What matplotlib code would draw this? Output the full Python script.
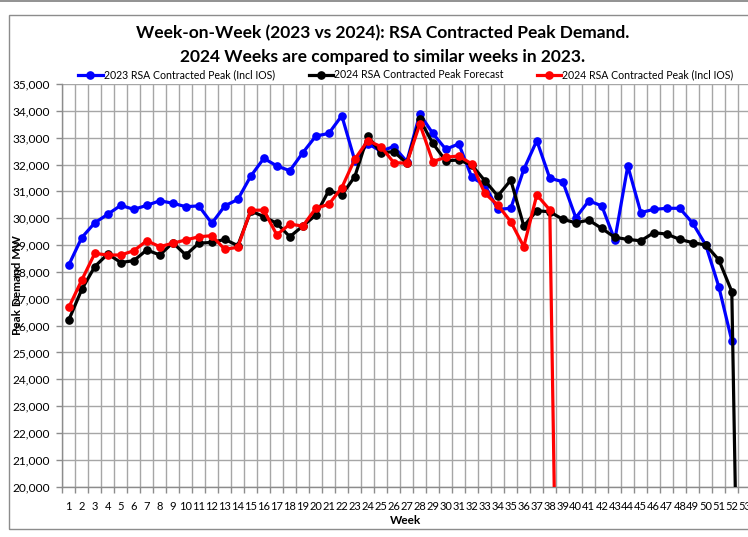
import matplotlib
matplotlib.use("Agg")
import matplotlib.pyplot as plt
from matplotlib.lines import Line2D
from matplotlib.patches import Rectangle
from matplotlib.ticker import FuncFormatter, FixedLocator

plt.rcParams['font.family'] = ['Lato', 'DejaVu Sans']

# week numbers on the category axis
weeks = list(range(1, 54))
week_labels = [str(w) for w in weeks]

# 2023 RSA Contracted Peak (Incl IOS), weeks 1-52
peak_2023 = [28260, 29280, 29830, 30150, 30480, 30330, 30480, 30650, 30560, 30430,
             30460, 29810, 30460, 30700, 31570, 32230, 31950, 31770, 32440, 33060,
             33160, 33820, 32150, 32780, 32500, 32670, 32110, 33880, 33160, 32570,
             32770, 31520, 31240, 30330, 30370, 31820, 32890, 31490, 31360, 30020,
             30650, 30460, 29190, 31950, 30210, 30330, 30370, 30370, 29810, 29000,
             27450, 25440]

# 2024 RSA Contracted Peak Forecast, weeks 1-53
forecast_2024 = [26210, 27350, 28200, 28670, 28350, 28420, 28820, 28630, 29090, 28630,
                 29070, 29100, 29210, 28980, 30270, 30060, 29810, 29310, 29710, 30120,
                 31030, 30870, 31550, 33060, 32440, 32480, 32050, 33680, 32790, 32140,
                 32170, 31980, 31400, 30830, 31420, 29710, 30280, 30240, 29960, 29830,
                 29930, 29620, 29290, 29210, 29160, 29460, 29410, 29210, 29090, 29000,
                 28450, 27270, 0]

# 2024 RSA Contracted Peak (Incl IOS), weeks 1-39
actual_2024 = [26680, 27700, 28690, 28630, 28630, 28790, 29160, 28940, 29070, 29190,
               29310, 29350, 28840, 28920, 30300, 30300, 29380, 29780, 29710, 30370,
               30520, 31140, 32200, 32890, 32670, 32070, 32050, 33510, 32110, 32270,
               32320, 32020, 30930, 30490, 29870, 28940, 30870, 30310, 0]

series_names = ["2023 RSA Contracted Peak (Incl IOS)",
                "2024 RSA Contracted Peak Forecast",
                "2024 RSA Contracted Peak (Incl IOS)"]
colors = ["#0000FF", "#000000", "#FF0000"]

W, H = 748, 537
fig = plt.figure(figsize=(W / 100, H / 100), dpi=100)

# outer chart frame
fig.patches.append(Rectangle((9.3 / W, 1 - 529 / H), 1.2, (529 - 15) / H,
                             transform=fig.transFigure, fill=False,
                             edgecolor="#8c8c8c", lw=1.0))
fig.add_artist(Line2D([0, 1], [1 - 0.8 / H, 1 - 0.8 / H], transform=fig.transFigure,
                      color="#7f7f7f", lw=1.2))

ax = fig.add_axes([62.3 / W, 1 - 486.7 / H, (751.3 - 62.3) / W, (486.7 - 84) / H])

series = [peak_2023, forecast_2024, actual_2024]
for vals, col, name in zip(series, colors, series_names):
    ax.plot(weeks[:len(vals)], vals, color=col, lw=2.3, marker='o', ms=5.2,
            label=name, zorder=3)

ax.set_xlim(0.5, 53.5)
ax.set_ylim(20000, 35000)

# category axis: gridlines/ticks between weeks, labels in the middle
ax.xaxis.set_major_locator(FixedLocator([w + 0.5 for w in range(0, 54)]))
ax.xaxis.set_minor_locator(FixedLocator(weeks))
ax.xaxis.set_major_formatter(FuncFormatter(lambda v, p: ""))
ax.set_xticks(weeks, week_labels, minor=True)
ax.tick_params(axis='x', which='major', length=4, color="#8c8c8c", width=1)
ax.tick_params(axis='x', which='minor', length=0, pad=10, labelsize=8)

ax.set_yticks(range(20000, 35001, 1000))
ax.yaxis.set_major_formatter(FuncFormatter(lambda v, p: f"{int(v):,}"))
ax.tick_params(axis='y', length=4, color="#8c8c8c", width=1, pad=5, labelsize=8.6)

ax.grid(True, which='major', color="#a6a6a6", lw=1.0)
ax.set_axisbelow(True)
for side in ['top', 'right']:
    ax.spines[side].set_visible(False)
for side in ['left', 'bottom']:
    ax.spines[side].set_color("#8c8c8c")
    ax.spines[side].set_linewidth(1.0)

fig.text(406 / W, 1 - 520 / H, "Week", ha='center', va='center',
         fontsize=8.5, fontweight='bold')
fig.text(18 / W, 1 - 285 / H, "Peak Demand MW", ha='center', va='center',
         rotation=90, fontsize=8.5, fontweight='bold')

fig.text(383 / W, 1 - 33 / H, "Week-on-Week (2023 vs 2024): RSA Contracted Peak Demand.",
         ha='center', va='center', fontsize=12.5, fontweight='bold')
fig.text(383 / W, 1 - 57 / H, "2024 Weeks are compared to similar weeks in 2023.",
         ha='center', va='center', fontsize=12.5, fontweight='bold')

handles = [Line2D([], [], color=c, lw=2.3, marker='o', ms=5.2) for c in colors]
fig.legend(handles, series_names, ncol=3, loc='center',
           bbox_to_anchor=(406 / W, 1 - 75 / H), frameon=False, fontsize=7.6,
           handlelength=2.3, handletextpad=0.1, columnspacing=3.2, borderpad=0)

fig.savefig("out.png", dpi=100)
